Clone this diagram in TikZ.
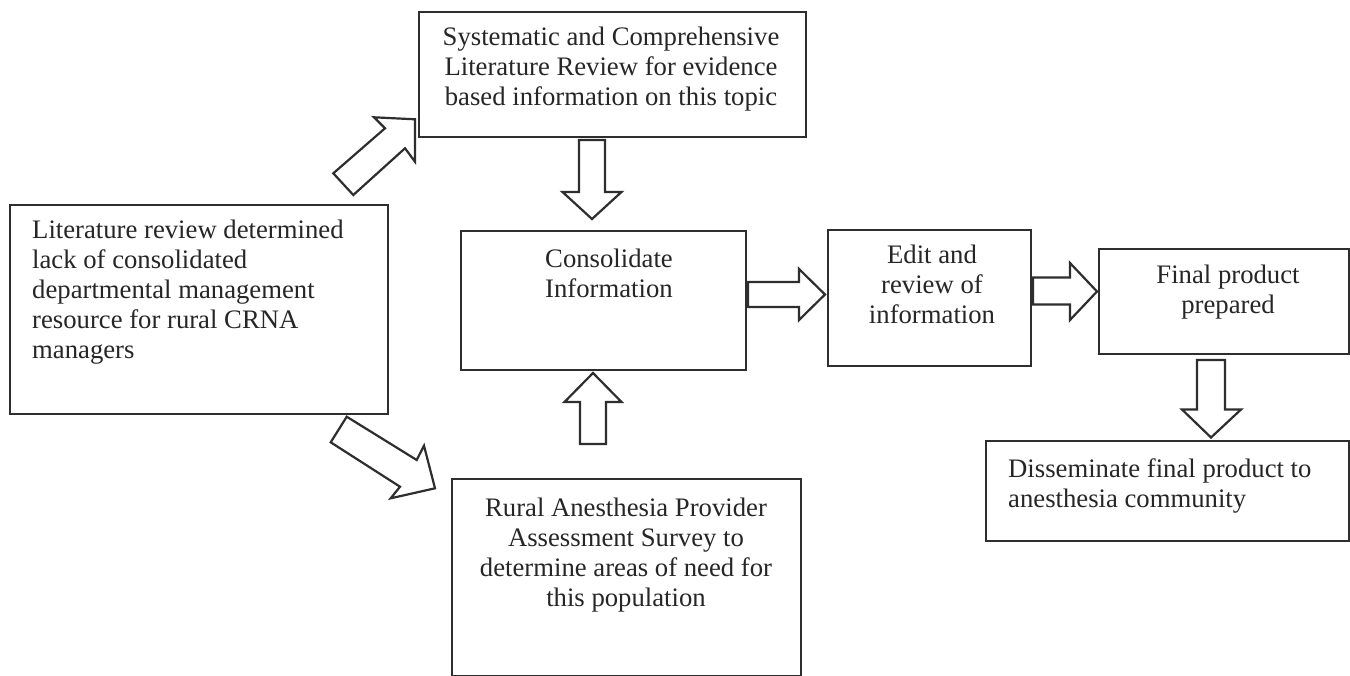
\documentclass[tikz,border=0pt]{standalone}
\usepackage{fontspec}
\setmainfont{Liberation Serif}
\definecolor{linecol}{HTML}{2E2E2E}
\definecolor{textcol}{HTML}{262626}
\begin{document}
\begin{tikzpicture}[x=1pt,y=-1pt,
  box/.style={draw=linecol, line width=1.6pt, rectangle, inner sep=0pt, anchor=north west},
  txt/.style={inner sep=0pt, text=textcol, font=\fontsize{26.7}{30}\selectfont},
  blk/.style={draw=linecol, line width=2.2pt, line join=miter, fill=white}]
\useasboundingbox[fill=white] (0,0) rectangle (1350,676);

% boxes
\node[box, minimum width=387pt, minimum height=125pt] (sys) at (418,11) {};
\node[box, minimum width=378pt, minimum height=209pt] (lit) at (9,204) {};
\node[box, minimum width=285pt, minimum height=139pt] (cons) at (460,230) {};
\node[box, minimum width=203pt, minimum height=136pt] (edit) at (827,229) {};
\node[box, minimum width=250pt, minimum height=105pt] (final) at (1098,248) {};
\node[box, minimum width=363pt, minimum height=100pt] (diss) at (985,440) {};
\node[box, minimum width=349pt, minimum height=197pt] (rural) at (451,478) {};

% texts
\node[txt, anchor=north, align=center] (systxt) at (611,24)
  {\strut Systematic and Comprehensive\\Literature Review for evidence\\based information on this topic};
\node[txt, anchor=north west, align=left] (littxt) at (32,217)
  {\strut Literature review determined\\lack of consolidated\\departmental management\\resource for rural CRNA\\managers};
\node[txt, anchor=north, align=center] (constxt) at (609,246)
  {\strut Consolidate\\Information};
\node[txt, anchor=north, align=center] (edittxt) at (932,242)
  {\strut Edit and\\review of\\information};
\node[txt, anchor=north, align=center] (finaltxt) at (1228,262)
  {\strut Final product\\prepared};
\node[txt, anchor=north west, align=left] (disstxt) at (1008,456)
  {\strut Disseminate final product to\\anesthesia community};
\node[txt, anchor=north, align=center] (ruraltxt) at (626,495)
  {\strut Rural Anesthesia Provider\\Assessment Survey to\\determine areas of need for\\this population};

% block arrows
% lit -> sys (north-east)
\draw[blk] (333.3,173.3) -- (385,128.3) -- (374,117.3) -- (415,119.3) -- (415,161.7) -- (405,148.3) -- (353.3,195) -- cycle;
% lit -> rural (south-east)
\draw[blk] (346.7,416.7) -- (416.7,460) -- (424,445.7) -- (435,488.3) -- (390.7,498.3) -- (400,486.7) -- (330.7,442.3) -- cycle;
% sys -> cons (down)
\draw[blk] (579,140) -- (605,140) -- (605,192) -- (621.5,192) -- (592,219) -- (562.5,192) -- (579,192) -- cycle;
% rural -> cons (up)
\draw[blk] (580,444) -- (606,444) -- (606,402) -- (621.5,402) -- (593,373) -- (564.5,402) -- (580,402) -- cycle;
% cons -> edit (right)
\draw[blk] (748,282) -- (799,282) -- (799,269) -- (825,294.5) -- (799,320) -- (799,307) -- (748,307) -- cycle;
% edit -> final (right)
\draw[blk] (1033,277.5) -- (1070,277.5) -- (1070,263) -- (1097,291.5) -- (1070,320) -- (1070,304.5) -- (1033,304.5) -- cycle;
% final -> diss (down)
\draw[blk] (1197,360) -- (1225,360) -- (1225,409.5) -- (1241,409.5) -- (1211,437.5) -- (1182,409.5) -- (1197,409.5) -- cycle;
\end{tikzpicture}
\end{document}
